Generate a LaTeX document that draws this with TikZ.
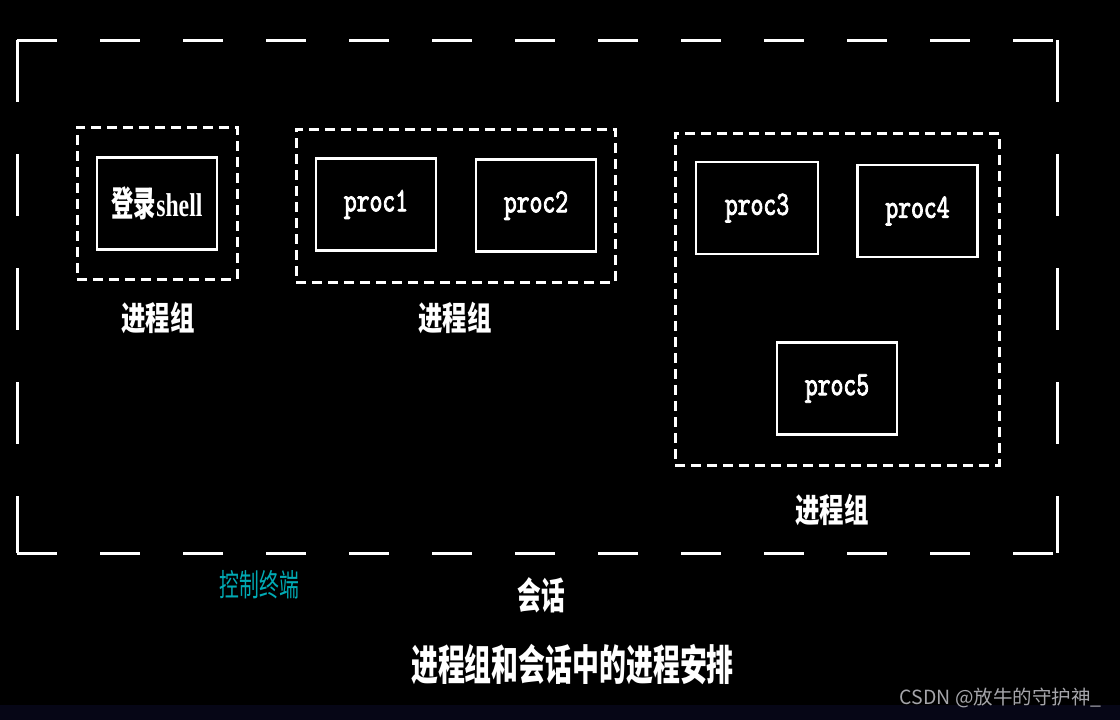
\documentclass[tikz,border=0pt]{standalone}
\usepackage{fontspec}
\newfontfamily\cjk[FakeStretch=0.64]{Noto Sans CJK SC}
\newfontfamily\cjkwide[FakeStretch=0.74]{Noto Sans CJK SC}
\newfontfamily\cjkplain{Noto Sans CJK SC}
\newfontfamily\shellfont[FakeStretch=0.72]{Liberation Serif}
\newfontfamily\procfont[FakeStretch=0.72,FakeBold=2.4]{lmmono10-regular.otf}
\definecolor{termcyan}{RGB}{0,170,180}
\definecolor{markgray}{RGB}{165,165,170}
\definecolor{stripblue}{RGB}{6,6,22}
\usetikzlibrary{positioning}
\tikzset{
  procbox/.style={draw=white, line width=2.5pt, minimum width=120pt, minimum height=92pt,
    text=white, font=\procfont\fontsize{34}{34}\selectfont},
  groupbox/.style={draw=white, line width=3pt, dash pattern=on 10pt off 6pt},
  grouplabel/.style={text=white, font=\cjkwide\bfseries\fontsize{33}{33}\selectfont},
  hside/.style={white, line width=3pt, dash pattern=on 40pt off 43pt},
  vside/.style={white, line width=3pt, dash pattern=on 62pt off 52pt},
}

\begin{document}
\begin{tikzpicture}[x=1pt, y=-1pt]
	\fill[black] (0,0) rectangle (1120,720);
	\fill[stripblue] (0,705) rectangle (1120,720);
	\useasboundingbox (0,0) rectangle (1120,720);
	% session frame
	\coordinate (tl) at (17,40);
	\coordinate (tr) at (1057,40);
	\coordinate (bl) at (17,553);
	\coordinate (br) at (1057,553);
	\draw[hside] (tl) -- (tr);
	\draw[hside] (bl) -- (br);
	\draw[vside] (tl) -- (bl);
	\draw[vside] (tr) -- (br);
	% process groups
	\node[groupbox, minimum width=160pt, minimum height=152pt] (g1) at (157,203){};
	\node[groupbox, minimum width=319pt, minimum height=153pt] (g2) at (455.5,205.5){};
	\node[groupbox, minimum width=324pt, minimum height=332pt] (g3) at (837,299){};
	% processes
	\node[procbox] (shell) at (157,203.5){{\cjk\bfseries\fontsize{35}{35}\selectfont 登录}{\shellfont\bfseries\fontsize{33}{33}\selectfont shell}};
	\node[procbox] (p1) at (376,204.5){proc1};
	\node[procbox] (p2) at (536,205.5){proc2};
	\node[procbox, minimum width=122pt] (p3) at (757,208){proc3};
	\node[procbox] (p4) at (917.5,211){proc4};
	\node[procbox] (p5) at (837,388.5){proc5};
	% labels
	\node[grouplabel] (l1) at (158,318){进程组};
	\node[grouplabel] (l2) at (455,318){进程组};
	\node[grouplabel] (l3) at (832,510){进程组};
	\node[text=termcyan, font=\cjk\fontsize{31}{31}\selectfont] (term) at (259.5,585){控制终端};
	\node[text=white, font=\cjk\bfseries\fontsize{37}{37}\selectfont] (sess) at (541.5,595){会话};
	\node[text=white, font=\cjk\bfseries\fontsize{42}{42}\selectfont] (title) at (572.5,665){进程组和会话中的进程安排};
	\node[text=markgray, font=\cjkplain\fontsize{19.5}{19.5}\selectfont, anchor=east] (mark) at (1105,698){CSDN @放牛的守护神\_};
\end{tikzpicture}
\end{document}
